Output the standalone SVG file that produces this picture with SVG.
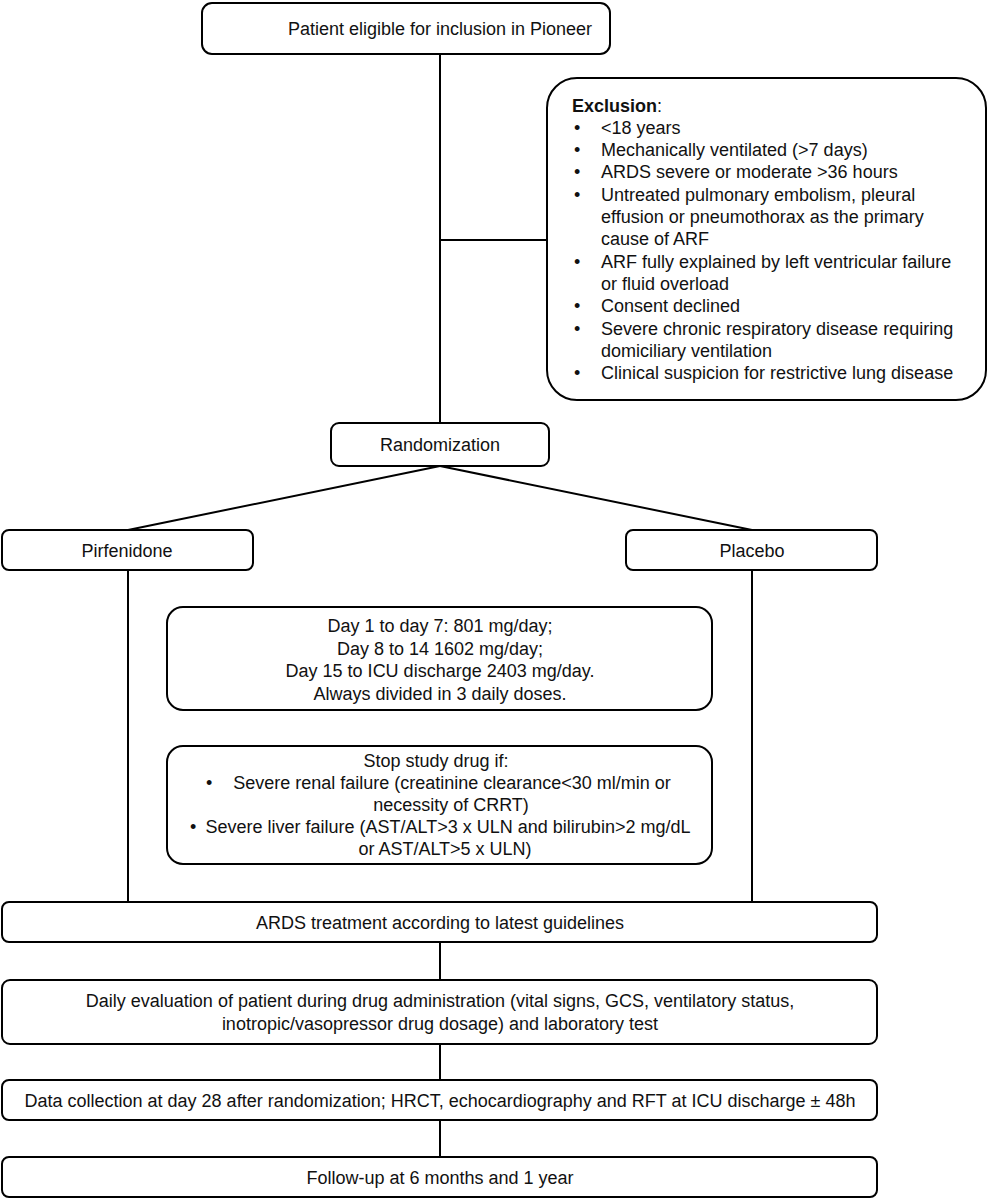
<svg xmlns="http://www.w3.org/2000/svg" width="988" height="1200" viewBox="0 0 988 1200">
<style>
.box{fill:#fff;stroke:#000;stroke-width:2}
.ln{stroke:#000;stroke-width:2;fill:none}
text{font-family:"Liberation Sans",Arial,sans-serif;font-size:18px;fill:#111}
.c{text-anchor:middle}
.b{font-weight:bold}
</style>
<rect width="988" height="1200" fill="#fff"/>
<g id="connectors">
<line class="ln" x1="440" y1="54" x2="440" y2="423"/>
<line class="ln" x1="440" y1="240" x2="547" y2="240"/>
<line class="ln" x1="440" y1="466" x2="128" y2="530"/>
<line class="ln" x1="440" y1="466" x2="752" y2="530"/>
<line class="ln" x1="128" y1="570" x2="128" y2="902"/>
<line class="ln" x1="752" y1="570" x2="752" y2="902"/>
<line class="ln" x1="440" y1="942" x2="440" y2="980"/>
<line class="ln" x1="440" y1="1044" x2="440" y2="1080"/>
<line class="ln" x1="440" y1="1120" x2="440" y2="1157"/>
</g>
<g id="eligible">
<rect class="box" x="202" y="3" width="408" height="51" rx="10"/>
<text class="c" x="440" y="35">Patient eligible for inclusion in Pioneer</text>
</g>
<g id="exclusion">
<rect class="box" x="547" y="78" width="439" height="322" rx="30"/>
<text x="572" y="112"><tspan class="b">Exclusion</tspan>:</text>
<g>
<text x="574" y="134">•</text><text x="601" y="134">&lt;18 years</text>
<text x="574" y="156">•</text><text x="601" y="156">Mechanically ventilated (&gt;7 days)</text>
<text x="574" y="178">•</text><text x="601" y="178">ARDS severe or moderate &gt;36 hours</text>
<text x="574" y="201">•</text><text x="601" y="201">Untreated pulmonary embolism, pleural</text>
<text x="601" y="223">effusion or pneumothorax as the primary</text>
<text x="601" y="245">cause of ARF</text>
<text x="574" y="268">•</text><text x="601" y="268">ARF fully explained by left ventricular failure</text>
<text x="601" y="290">or fluid overload</text>
<text x="574" y="312">•</text><text x="601" y="312">Consent declined</text>
<text x="574" y="335">•</text><text x="601" y="335">Severe chronic respiratory disease requiring</text>
<text x="601" y="357">domiciliary ventilation</text>
<text x="574" y="379">•</text><text x="601" y="379">Clinical suspicion for restrictive lung disease</text>
</g>
</g>
<g id="randomization">
<rect class="box" x="331" y="423" width="218" height="43" rx="8"/>
<text class="c" x="440" y="451">Randomization</text>
</g>
<g id="pirfenidone">
<rect class="box" x="2" y="530" width="251" height="40" rx="7"/>
<text class="c" x="127" y="557">Pirfenidone</text>
</g>
<g id="placebo">
<rect class="box" x="626" y="530" width="251" height="40" rx="7"/>
<text class="c" x="752" y="557">Placebo</text>
</g>
<g id="dose">
<rect class="box" x="167" y="607" width="545" height="103" rx="16"/>
<text class="c" x="440" y="632">Day 1 to day 7: 801 mg/day;</text>
<text class="c" x="440" y="655">Day 8 to 14 1602 mg/day;</text>
<text class="c" x="440" y="677">Day 15 to ICU discharge 2403 mg/day.</text>
<text class="c" x="440" y="700">Always divided in 3 daily doses.</text>
</g>
<g id="stop">
<rect class="box" x="167" y="746" width="545" height="118" rx="16"/>
<text class="c" x="436" y="767">Stop study drug if:</text>
<text x="206" y="789">•</text><text class="c" x="452" y="789">Severe renal failure (creatinine clearance&lt;30 ml/min or</text>
<text class="c" x="451" y="811">necessity of CRRT)</text>
<text x="190" y="833">•</text><text class="c" x="448" y="833">Severe liver failure (AST/ALT&gt;3 x ULN and bilirubin&gt;2 mg/dL</text>
<text class="c" x="445" y="855">or AST/ALT&gt;5 x ULN)</text>
</g>
<g id="ards">
<rect class="box" x="2" y="902" width="875" height="40" rx="7"/>
<text class="c" x="440" y="929">ARDS treatment according to latest guidelines</text>
</g>
<g id="daily">
<rect class="box" x="2" y="980" width="875" height="64" rx="8"/>
<text class="c" x="440" y="1007">Daily evaluation of patient during drug administration (vital signs, GCS, ventilatory status,</text>
<text class="c" x="440" y="1030">inotropic/vasopressor drug dosage) and laboratory test</text>
</g>
<g id="data">
<rect class="box" x="2" y="1080" width="875" height="40" rx="7"/>
<text class="c" x="440" y="1107">Data collection at day 28 after randomization; HRCT, echocardiography and RFT at ICU discharge ± 48h</text>
</g>
<g id="followup">
<rect class="box" x="2" y="1157" width="875" height="40" rx="7"/>
<text class="c" x="440" y="1184">Follow-up at 6 months and 1 year</text>
</g>
</svg>
